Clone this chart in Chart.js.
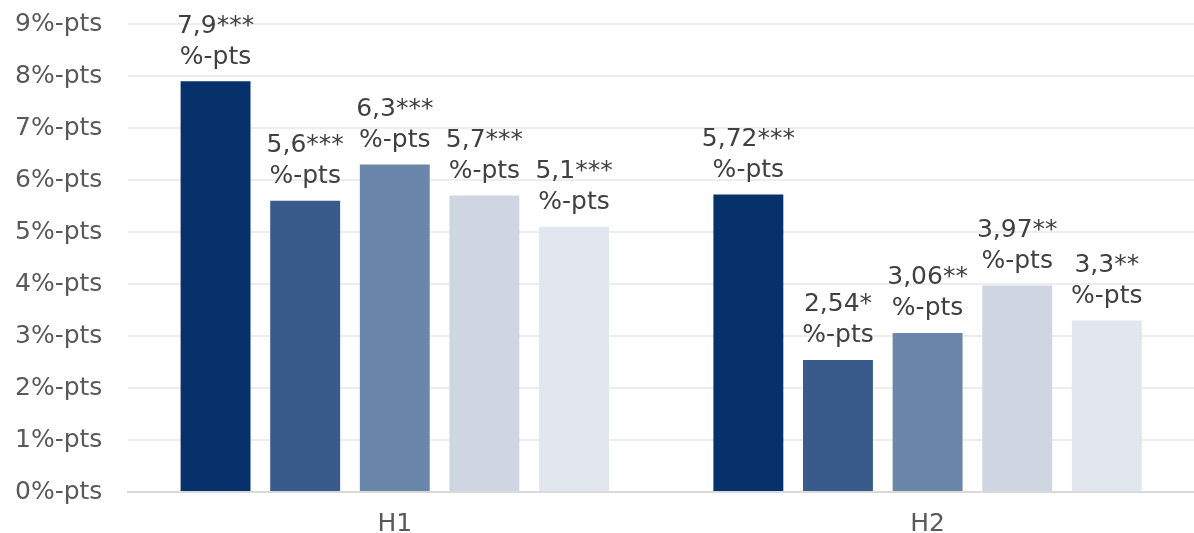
<!DOCTYPE html>
<html>
<head>
<meta charset="utf-8">
<script src="https://cdn.jsdelivr.net/npm/chart.js@4"></script>
<style>
  html, body { margin: 0; padding: 0; background: #fff; }
  #wrap { width: 1194px; height: 533px; }
</style>
</head>
<body>
<div id="wrap"><canvas id="chart" width="1194" height="533"></canvas></div>
<script>
// categories and series values (in %-points)
const categories = ['H1', 'H2'];
const series1 = [7.9, 5.72];
const series2 = [5.6, 2.54];
const series3 = [6.3, 3.06];
const series4 = [5.7, 3.97];
const series5 = [5.1, 3.3];

// value labels as printed above the bars
const labels1 = ['7,9***', '5,72***'];
const labels2 = ['5,6***', '2,54*'];
const labels3 = ['6,3***', '3,06**'];
const labels4 = ['5,7***', '3,97**'];
const labels5 = ['5,1***', '3,3**'];

const yTicks = [0, 1, 2, 3, 4, 5, 6, 7, 8, 9];

const colors = ['#07316B', '#385B8B', '#6A86AA', '#CFD6E2', '#E1E6EF'];
const FONT = "'DejaVu Sans', Verdana, sans-serif";
const FS = 25;

const allSeries = [series1, series2, series3, series4, series5];
const allLabels = [labels1, labels2, labels3, labels4, labels5];

// draws the two-line value label above every bar
const barLabels = {
    id: 'barLabels',
    afterDatasetsDraw(chart) {
        const ctx = chart.ctx;
        ctx.save();
        ctx.font = FS + 'px ' + FONT;
        ctx.fillStyle = '#404040';
        ctx.textAlign = 'center';
        ctx.textBaseline = 'middle';
        chart.data.datasets.forEach((ds, i) => {
            chart.getDatasetMeta(i).data.forEach((bar, j) => {
                ctx.fillText(allLabels[i][j], bar.x, bar.y - 55);
                ctx.fillText('%-pts', bar.x, bar.y - 24);
            });
        });
        ctx.restore();
    }
};

new Chart(document.getElementById('chart'), {
    type: 'bar',
    data: {
        labels: categories,
        datasets: allSeries.map((s, i) => ({
            label: 'Series ' + (i + 1),
            data: s,
            backgroundColor: colors[i],
            categoryPercentage: 0.841,
            barPercentage: 0.78
        }))
    },
    options: {
        responsive: false,
        animation: false,
        layout: { padding: { top: 24, right: -12, left: -11, bottom: -23 } },
        plugins: {
            legend: { display: false },
            tooltip: { enabled: false }
        },
        scales: {
            x: {
                grid: { display: false, drawTicks: false },
                border: { color: '#D9D9D9', width: 2 },
                ticks: { font: { family: FONT, size: FS }, color: '#595959', padding: 17 }
            },
            y: {
                min: 0,
                max: 9,
                afterBuildTicks: axis => { axis.ticks = yTicks.map(v => ({ value: v })); },
                afterFit: axis => { axis.paddingTop = 0; axis.paddingBottom = 0; },
                grid: { color: '#EDEDED', lineWidth: 2, drawTicks: false },
                border: { display: false },
                ticks: {
                    font: { family: FONT, size: FS },
                    color: '#595959',
                    padding: 26,
                    callback: v => v + '%-pts'
                }
            }
        }
    },
    plugins: [barLabels]
});
</script>
</body>
</html>
